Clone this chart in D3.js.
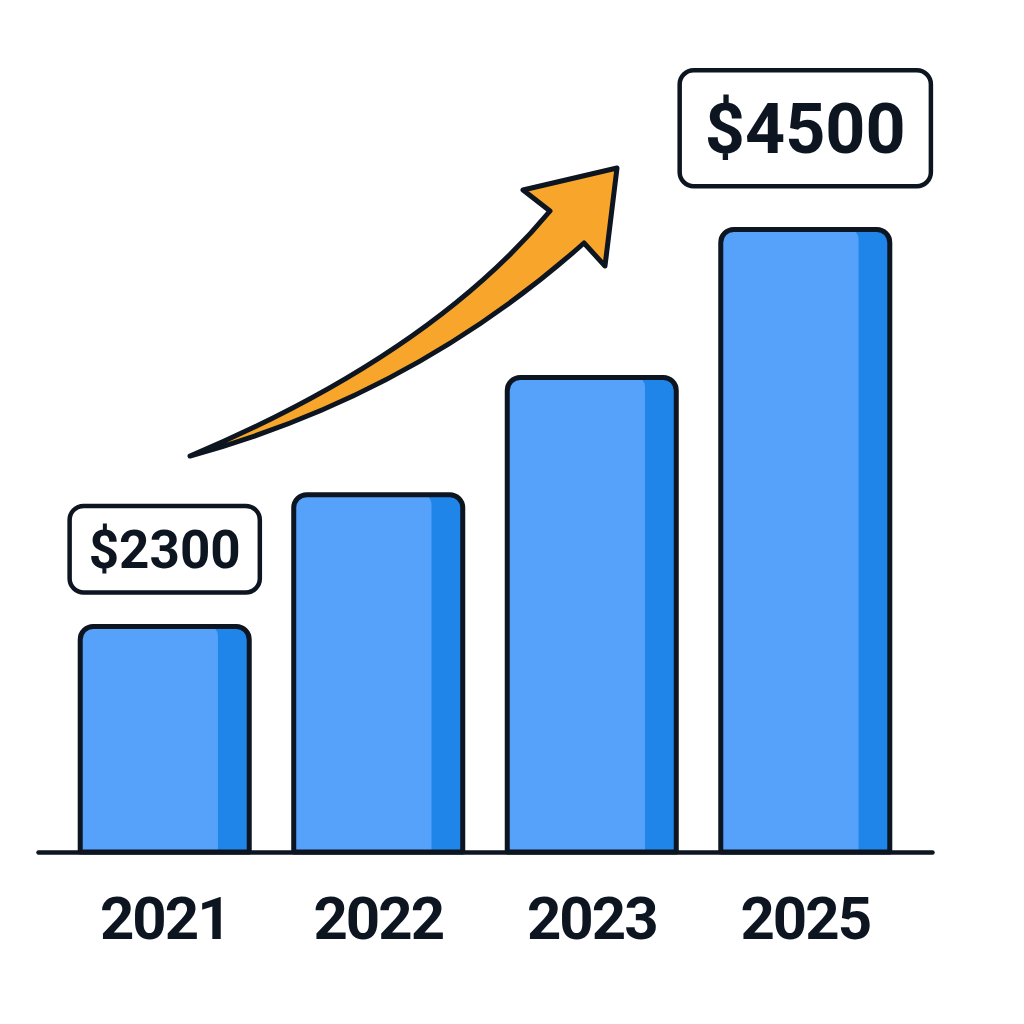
<!DOCTYPE html>
<html>
<head>
<meta charset="utf-8">
<script src="https://cdn.jsdelivr.net/npm/d3@7"></script>
<style>
  body { margin: 0; background: #fff; }
  svg { display: block; }
</style>
</head>
<body>
<div id="chart"></div>
<script>
// data
var years = ["2021", "2022", "2023", "2025"];
var revenue = [2300, 3030, 3680, 4500];
// callout boxes above some bars
var calloutYears = ["2021", "2025"];
var calloutSizes = [53, 70];

var W = 1024, H = 1024;
var ink = "#0c1520";
var baseY = 852;

var svg = d3.select("#chart")
  .append("svg")
    .attr("width", W)
    .attr("height", H);

var x = d3.scaleBand()
  .domain(years)
  .range([38, 932])
  .paddingInner(0.2084)
  .paddingOuter(0.1977);

var y = d3.scaleLinear()
  .domain([1050, 4500])
  .range([baseY, 229.5]);

var bw = x.bandwidth();
var r = 13;

function topRounded(x0, y0, w, h, rl, rr) {
  return "M" + x0 + "," + (y0 + h) +
    "V" + (y0 + rl) +
    "A" + rl + "," + rl + " 0 0 1 " + (x0 + rl) + "," + y0 +
    "H" + (x0 + w - rr) +
    "A" + rr + "," + rr + " 0 0 1 " + (x0 + w) + "," + (y0 + rr) +
    "V" + (y0 + h) + "Z";
}

var data = years.map(function(d, i) { return {year: d, value: revenue[i]}; });

var bars = svg.append("g").selectAll("g")
  .data(data)
  .enter()
  .append("g");

// dark right stripe = whole bar in dark blue
bars.append("path")
  .attr("d", function(d) {
    return topRounded(x(d.year), y(d.value), bw, baseY - y(d.value), r, r);
  })
  .attr("fill", "#1f85e9");

// light main face
bars.append("path")
  .attr("d", function(d) {
    return topRounded(x(d.year), y(d.value), bw * 0.815, baseY - y(d.value), r, 9);
  })
  .attr("fill", "#56a2fb");

// outline
bars.append("path")
  .attr("d", function(d) {
    return topRounded(x(d.year), y(d.value), bw, baseY - y(d.value), r, r);
  })
  .attr("fill", "none")
  .attr("stroke", ink)
  .attr("stroke-width", 5)
  .attr("stroke-linejoin", "round");

// baseline + year labels
var axis = svg.append("g")
  .attr("transform", "translate(0," + baseY + ")")
  .call(d3.axisBottom(x).tickSize(0).tickSizeOuter(0));

axis.select(".domain")
  .attr("stroke", ink)
  .attr("stroke-width", 4.5)
  .attr("stroke-linecap", "round");

axis.selectAll("text")
  .attr("y", 87)
  .attr("dy", null)
  .attr("fill", ink)
  .style("font-family", "Roboto, 'Liberation Sans', sans-serif")
  .style("font-weight", 700)
  .style("font-size", "60px")
  .style("letter-spacing", "-2px");

// growth arrow
var arrow = "M190,456" +
  "Q430,355 550,211" +
  "L523,190" +
  "L617,168" +
  "L605,266" +
  "L584,243" +
  "Q413,395 190,456Z";

svg.append("path")
  .attr("d", arrow)
  .attr("fill", "#f8a52c")
  .attr("stroke", ink)
  .attr("stroke-width", 5)
  .attr("stroke-linejoin", "round");

// value callouts
calloutYears.forEach(function(yr, i) {
  var v = revenue[years.indexOf(yr)];
  var fs = calloutSizes[i];
  var cx = x(yr) + bw / 2;
  var boxBottom = y(v) - 2.5 - 0.55 * fs;
  var g = svg.append("g");
  var rect = g.append("rect");
  var t = g.append("text")
    .attr("x", cx)
    .attr("text-anchor", "middle")
    .attr("fill", ink)
    .style("font-family", "Roboto, 'Liberation Sans', sans-serif")
    .style("font-weight", 700)
    .style("font-size", fs + "px")
    .text("$" + v);
  var tw = t.node().getComputedTextLength();
  var bwid = tw + 0.72 * fs;
  var bh = 1.72 * fs;
  var top = boxBottom - bh + 2.25;
  rect
    .attr("x", cx - bwid / 2)
    .attr("y", top)
    .attr("width", bwid)
    .attr("height", bh - 4.5)
    .attr("rx", 14)
    .attr("fill", "#fff")
    .attr("stroke", ink)
    .attr("stroke-width", 4.5);
  // baseline so caps sit centred in the box
  t.attr("y", top + (bh - 4.5) / 2 + 0.355 * fs);
});
</script>
</body>
</html>
